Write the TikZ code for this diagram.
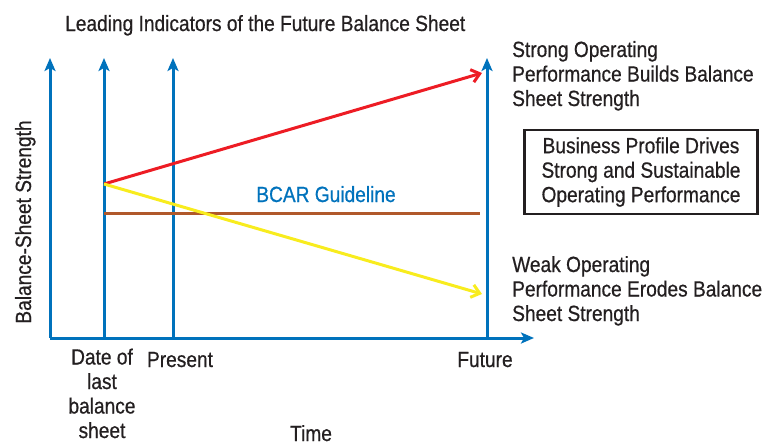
\documentclass[tikz,border=0pt]{standalone}
\usepackage{fontspec}
\setmainfont{Liberation Sans}[FakeStretch=0.87, FakeBold=0.6]
\usepackage{tikz}
\usetikzlibrary{positioning, arrows, arrows.meta}
\definecolor{axisblue}{RGB}{0,114,188}
\definecolor{strongred}{RGB}{237,28,36}
\definecolor{weakyellow}{RGB}{248,236,30}
\definecolor{bcarbrown}{RGB}{176,88,42}
\definecolor{inkgray}{RGB}{35,31,32}
\tikzstyle{axis} = [line width=3pt, draw=axisblue, -{Stealth[length=13pt, width=11pt, inset=3pt]}]
\tikzstyle{trend} = [line width=3pt, -{Straight Barb[length=8pt, width=13pt]}]
\tikzstyle{label} = [font=\fontsize{22}{24.5}\selectfont, text=inkgray, inner sep=0pt, align=left]
\tikzstyle{profile} = [rectangle, draw=inkgray, line width=2.5pt, minimum width=233pt, minimum height=84pt, align=center, font=\fontsize{22}{24.5}\selectfont, text=inkgray]

\begin{document}
\begin{tikzpicture}[x=1pt, y=-1pt]
                \useasboundingbox (0,0) rectangle (765,447);
                \coordinate (origin) at (50,338);
                \coordinate (timeend) at (534,338);
                \coordinate (strengthend) at (50,58);
                \coordinate (lastbase) at (104,338);
                \coordinate (lasttop) at (104,58);
                \coordinate (presentbase) at (173,338);
                \coordinate (presenttop) at (173,58);
                \coordinate (futurebase) at (487,338);
                \coordinate (futuretop) at (487,58);
                \coordinate (start) at (104,184);
                \coordinate (strongend) at (482,73);
                \coordinate (weakend) at (482,294);
                \coordinate (bcarstart) at (104,213);
                \coordinate (bcarend) at (480,213);

                % axes
                \draw [axis] (origin) -- (strengthend);
                \draw [axis] (origin) -- (timeend);
                \draw [axis] (lastbase) -- (lasttop);
                \draw [axis] (presentbase) -- (presenttop);
                \draw [axis] (futurebase) -- (futuretop);

                % guideline and trends
                \draw [line width=3pt, draw=bcarbrown] (bcarstart) -- (bcarend);
                \draw [trend, draw=strongred] (start) -- (strongend);
                \draw [trend, draw=weakyellow] (start) -- (weakend);

                \node (title) [label, anchor=base west] at (65,31) {Leading Indicators of the Future Balance Sheet};
                \node (strength) [label, rotate=90, anchor=base] at (31,222) {Balance-Sheet Strength};
                \node (bcar) [label, text=axisblue, anchor=base] at (326,202) {BCAR Guideline};
                \node (strong) [label, anchor=base west] at (512,106) {Strong Operating\\Performance Builds Balance\\Sheet Strength};
                \node (weak) [label, anchor=base west] at (512,321) {Weak Operating\\Performance Erodes Balance\\Sheet Strength};
                \node (profile) [profile] at (641,172) {Business Profile Drives\\Strong and Sustainable\\Operating Performance};

                \node (last) [label, align=center, anchor=base] at (102,438) {Date of\\last\\balance\\sheet};
                \node (present) [label, anchor=base] at (180,367) {Present};
                \node (future) [label, anchor=base] at (485,367) {Future};
                \node (time) [label, anchor=base] at (311,441) {Time};
\end{tikzpicture}
\end{document}
